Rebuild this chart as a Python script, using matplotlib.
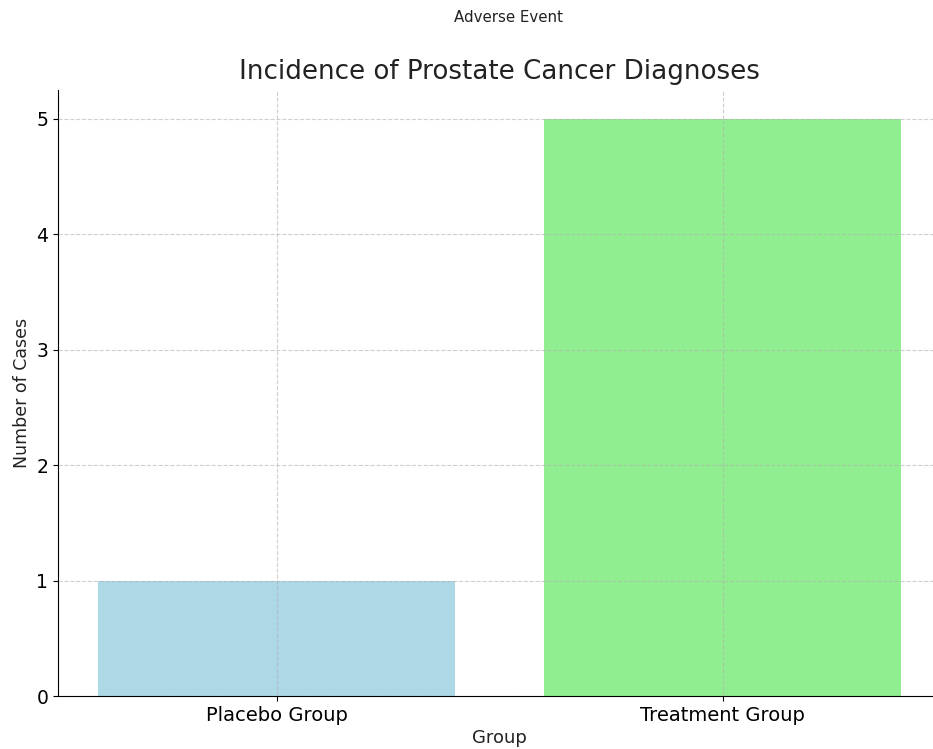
import matplotlib
matplotlib.use("Agg")
import matplotlib.pyplot as plt

groups = ["Placebo Group", "Treatment Group"]
cases = [1, 5]
colors = ["lightblue", "lightgreen"]

fig = plt.figure(figsize=(9.33, 7.49), dpi=100)
ax = fig.add_axes([58/933, 53/749, (941.5-58)/933, 606/749])
ax.bar(groups, cases, color=colors, width=0.8)
ax.set_axisbelow(False)
ax.grid(True, linestyle='--', color='#b0b0b0', alpha=0.6, linewidth=0.8)
ax.set_title("Incidence of Prostate Cancer Diagnoses", fontsize=18.8, color='#222222', pad=8)
fig.text(509/933, 1 - 17/749, "Adverse Event", fontsize=10.8, color='#222222',
         ha='center', va='center')
ax.set_xlabel("Group", fontsize=13, color='#222222', labelpad=3)
ax.set_ylabel("Number of Cases", fontsize=12.5, color='#222222')
ax.tick_params(axis='x', labelsize=14)
ax.tick_params(axis='y', labelsize=13.5)
for s in ['top', 'right']:
    ax.spines[s].set_visible(False)
fig.savefig("out.png", dpi=100)
